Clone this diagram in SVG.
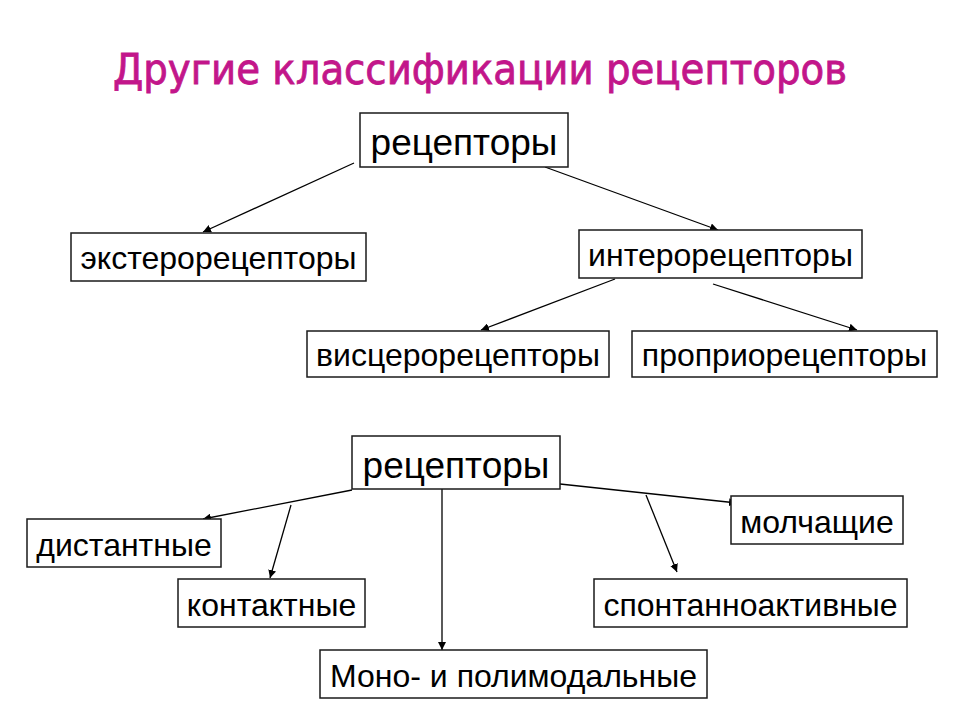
<svg xmlns="http://www.w3.org/2000/svg" width="960" height="720" viewBox="0 0 960 720">
<style>
.box{fill:#fff;stroke:#1a1a1a;stroke-width:1.5}
.t{font-family:"Liberation Sans",Arial,sans-serif;font-size:32px;fill:#000;text-anchor:middle}
.big{font-size:37px}
.title{font-family:"DejaVu Sans Condensed","DejaVu Sans","Liberation Sans",sans-serif;font-size:43px;fill:#C2168A;text-anchor:middle;stroke:#C2168A;stroke-width:0.8}
.c{stroke:#000;stroke-width:1.3;fill:none;marker-end:url(#ah)}
</style>
<defs>
<marker id="ah" viewBox="0 0 10 10" refX="10" refY="5" markerWidth="8" markerHeight="8" markerUnits="userSpaceOnUse" orient="auto">
<path d="M0,0 L10,5 L0,10 z" fill="#000"/>
</marker>
</defs>
<rect width="960" height="720" fill="#fff"/>
<text class="title" x="480" y="84">Другие классификации рецепторов</text>
<g id="connectors">
<line class="c" x1="354" y1="163" x2="203" y2="232"/>
<line class="c" x1="545" y1="167" x2="718" y2="230"/>
<line class="c" x1="615" y1="279" x2="481" y2="330"/>
<line class="c" x1="713" y1="284" x2="857" y2="330"/>
<line class="c" x1="352" y1="490" x2="203" y2="519"/>
<line class="c" x1="291" y1="505" x2="270" y2="578"/>
<line class="c" x1="442" y1="489" x2="442" y2="650"/>
<line class="c" x1="560" y1="484" x2="737" y2="503"/>
<line class="c" x1="646" y1="495" x2="677" y2="572"/>
</g>
<g id="n1"><rect class="box" x="360" y="113" width="208" height="54"/><text class="t big" x="464" y="155">рецепторы</text></g>
<g id="n2"><rect class="box" x="71" y="233" width="295" height="48"/><text class="t" x="218.5" y="269">экстерорецепторы</text></g>
<g id="n3"><rect class="box" x="579" y="230" width="283" height="48"/><text class="t" x="720.5" y="266">интерорецепторы</text></g>
<g id="n4"><rect class="box" x="307" y="331" width="302" height="46"/><text class="t" x="458" y="366">висцерорецепторы</text></g>
<g id="n5"><rect class="box" x="632" y="331" width="305" height="46"/><text class="t" x="784.5" y="366">проприорецепторы</text></g>
<g id="n6"><rect class="box" x="352" y="436" width="208" height="53"/><text class="t big" x="456" y="478">рецепторы</text></g>
<g id="n7"><rect class="box" x="27" y="519" width="194" height="48"/><text class="t" x="124" y="556">дистантные</text></g>
<g id="n8"><rect class="box" x="178" y="579" width="187" height="48"/><text class="t" x="271.5" y="616">контактные</text></g>
<g id="n9"><rect class="box" x="320" y="650" width="387" height="48"/><text class="t" x="513.5" y="687">Моно- и полимодальные</text></g>
<g id="n10"><rect class="box" x="731" y="496" width="172" height="48"/><text class="t" x="817" y="533">молчащие</text></g>
<g id="n11"><rect class="box" x="594" y="579" width="313" height="48"/><text class="t" x="750.5" y="616">спонтанноактивные</text></g>
</svg>
